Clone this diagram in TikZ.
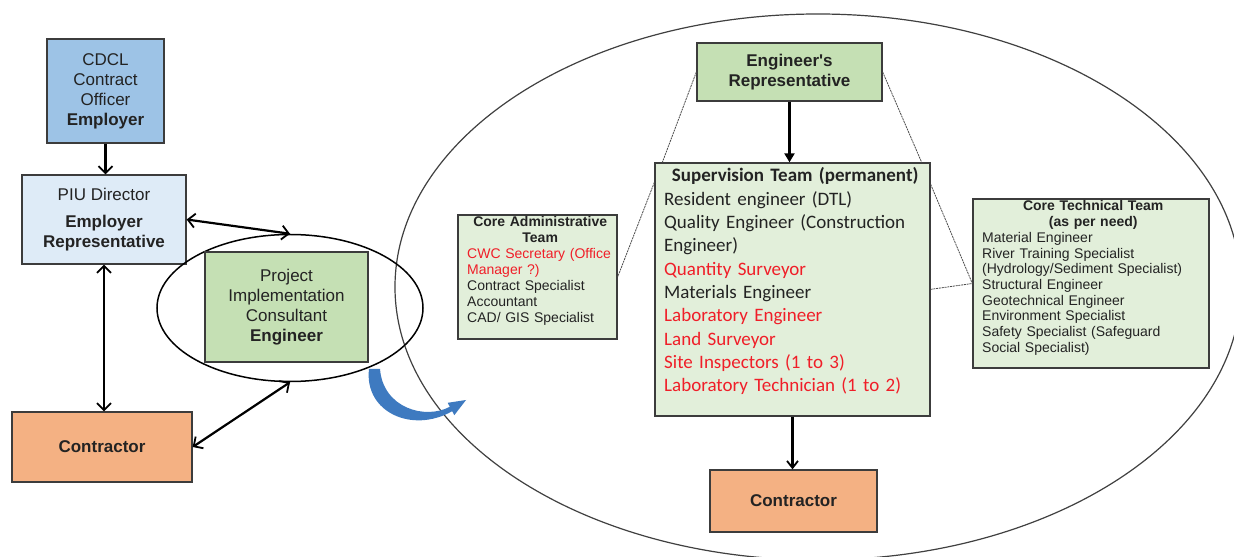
\documentclass[tikz,border=0pt]{standalone}
\usepackage{fontspec}
\setmainfont{Liberation Sans}
\newfontfamily\calfont{Carlito}
\usetikzlibrary{shapes.geometric,arrows.meta,calc}

\definecolor{cdclblue}{RGB}{157,195,230}
\definecolor{piublue}{RGB}{222,235,247}
\definecolor{midgreen}{RGB}{197,224,180}
\definecolor{palegreen}{RGB}{226,239,218}
\definecolor{orangefill}{RGB}{244,177,131}
\definecolor{boxline}{RGB}{60,60,60}
\definecolor{redtext}{RGB}{240,30,40}
\definecolor{arrowblue}{RGB}{62,122,192}
\definecolor{textgrey}{RGB}{35,35,35}

\begin{document}
\begin{tikzpicture}[x=1bp,y=-1bp,
  box/.style={draw=boxline, line width=1.3bp, inner sep=0pt, align=center, text=textgrey},
  bigtxt/.style={font=\fontsize{17bp}{20bp}\selectfont},
  listtxt/.style={inner sep=0pt, align=left, anchor=base west, text=textgrey},
  barb/.style={line width=2.2bp, -{Straight Barb[length=7bp,width=14bp,line width=1.8bp]}},
  dbl/.style={line width=2.2bp, {Straight Barb[length=7bp,width=14bp,line width=1.8bp]}-{Straight Barb[length=7bp,width=14bp,line width=1.8bp]}},
  down/.style={line width=2.2bp, -{Triangle[length=9bp,width=10bp]}},
  callout/.style={line width=0.8bp, draw=black!70, dash pattern=on 2bp off 0.8bp},
  oval/.style={ellipse, draw, inner sep=0pt}
]
\useasboundingbox (0,0) rectangle (1234,557);
\clip (0,0) rectangle (1234,557);
\fill[white] (0,0) rectangle (1234,557);

% big ellipse
\node[oval, draw=black!75, line width=1.2bp, minimum width=846bp, minimum height=546bp] (big) at (818,287) {};

% left part
\node[box, bigtxt, fill=cdclblue, minimum width=117bp, minimum height=104bp] (cdcl) at (105.5,91)
  {CDCL\\Contract\\Officer\\\textbf{Employer}};
\node[box, bigtxt, fill=piublue, minimum width=164bp, minimum height=89bp] (piu) at (104,219.5)
  {PIU Director\\[7bp]\textbf{Employer}\\\textbf{Representative}};
\node[box, bigtxt, fill=orangefill, minimum width=180bp, minimum height=70bp] (con1) at (102,447)
  {\textbf{Contractor}};
\node[oval, line width=1.5bp, minimum width=266bp, minimum height=147bp] (pice) at (290,308) {};
\node[box, bigtxt, fill=midgreen, minimum width=163bp, minimum height=110bp] (pic) at (286.5,307)
  {Project\\Implementation\\Consultant\\\textbf{Engineer}};

\draw[barb] (cdcl.south) -- (cdcl.south |- piu.north);
\draw[dbl] (piu.south) -- (piu.south |- con1.north);
\draw[dbl] (piu.east) -- (pice.north);
\draw[dbl] (con1.east) -- (pice.south);

% blue curved arrow
\fill[arrowblue] (369,369) .. controls (364,412) and (412,434) .. (452.2,411.2)
  -- (454.3,415.2) -- (466,400) -- (447.7,402.8) -- (449.8,406.8)
  .. controls (425,420) and (383,408) .. (380,369) -- cycle;

% right part
\node[box, bigtxt, fill=midgreen, minimum width=185bp, minimum height=58bp] (er) at (789.5,72)
  {\textbf{Engineer\textquotesingle s}\\\textbf{Representative}};
\node[box, fill=palegreen, minimum width=275bp, minimum height=253bp] (sup) at (792.5,289.5) {};
\node[box, bigtxt, fill=orangefill, minimum width=167bp, minimum height=62bp] (con2) at (793.5,501)
  {\textbf{Contractor}};
\node[box, fill=palegreen, minimum width=159bp, minimum height=124bp] (admin) at (537.5,277) {};
\node[box, fill=palegreen, minimum width=236bp, minimum height=169bp] (tech) at (1091,283.5) {};

\node[listtxt, text width=262bp, font=\calfont\fontsize{19bp}{23.3bp}\selectfont] (suptext) at (664,182)
  {\makebox[\linewidth][c]{\bfseries Supervision Team (permanent)}\\
   Resident engineer (DTL)\\
   \mbox{Quality Engineer (Construction}\\
   Engineer)\\
   \textcolor{redtext}{Quantity Surveyor}\\
   Materials Engineer\\
   \textcolor{redtext}{Laboratory Engineer}\\
   \textcolor{redtext}{Land Surveyor}\\
   \textcolor{redtext}{Site Inspectors (1 to 3)}\\
   \textcolor{redtext}{\mbox{Laboratory Technician (1 to 2)}}};

\node[listtxt, text width=146bp, font=\fontsize{14bp}{15.9bp}\selectfont] (admintext) at (467,227)
  {\makebox[\linewidth][c]{\bfseries Core Administrative}\\
   \makebox[\linewidth][c]{\bfseries Team}\\
   \textcolor{redtext}{\mbox{CWC Secretary (Office}}\\
   \textcolor{redtext}{Manager ?)}\\
   \mbox{Contract Specialist}\\
   Accountant\\
   \mbox{CAD/ GIS Specialist}};

\node[listtxt, text width=222bp, font=\fontsize{14bp}{15.7bp}\selectfont] (techtext) at (982,211)
  {\makebox[\linewidth][c]{\bfseries Core Technical Team}\\
   \makebox[\linewidth][c]{\bfseries (as per need)}\\
   Material Engineer\\
   River Training Specialist\\
   \mbox{(Hydrology/Sediment Specialist)}\\
   Structural Engineer\\
   Geotechnical Engineer\\
   Environment Specialist\\
   \mbox{Safety Specialist (Safeguard}\\
   Social Specialist)};

\draw[down] (er.south) -- (er.south |- sup.north);
\draw[line width=2.2bp, -{Straight Barb[length=7bp,width=11bp,line width=1.8bp]}] (sup.south) -- (sup.south |- con2.north);

% callout lines
\draw[callout] (er.west) -- ([xshift=8bp]sup.north west);
\draw[callout] (er.east) -- ([xshift=-9bp]sup.north east);
\draw[callout] ([yshift=-20bp]sup.north west) -- (admin.east);
\draw[callout] ([yshift=-22bp]sup.north east) -- (tech.west);
\draw[callout] ([yshift=-127bp]sup.north east) -- (tech.west);
\end{tikzpicture}
\end{document}
